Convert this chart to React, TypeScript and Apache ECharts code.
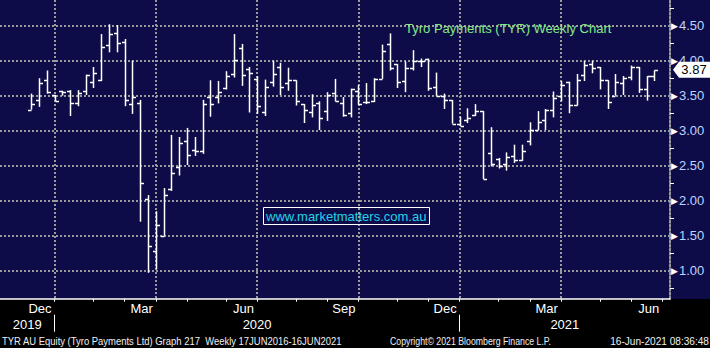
import React, { useEffect, useRef } from 'react';
import * as echarts from 'echarts';

// Weekly categories (Friday dates); first 4 weeks are empty padding before the listing
const startDate = Date.UTC(2019, 10, 8);
const weekCount = 87;
const firstBarIndex = 4;
const weeks: string[] = Array.from({ length: weekCount }, (_, k) =>
  new Date(startDate + k * 7 * 86400000).toISOString().slice(0, 10)
);

const opens = [3.30, 3.44, 3.73, 3.51, 3.56, 3.57, 3.40, 3.56, 3.69, 3.73, 4.23, 4.40, 4.27, 3.38, 3.39, 2.02, 1.28, 1.50, 2.16, 2.48, 2.85, 2.73, 2.71, 3.48, 3.48, 3.61, 3.81, 4.18, 3.88, 3.74, 3.26, 3.70, 3.91, 3.68, 3.72, 3.38, 3.27, 3.39, 3.28, 3.54, 3.40, 3.25, 3.57, 3.41, 3.42, 3.74, 4.24, 3.95, 3.71, 3.90, 4.00, 4.03, 3.63, 3.50, 3.44, 3.10, 3.15, 3.23, 3.28, 2.68, 2.60, 2.53, 2.64, 2.58, 2.85, 3.01, 3.15, 3.30, 3.50, 3.70, 3.37, 3.79, 3.95, 3.91, 3.72, 3.50, 3.68, 3.77, 3.91, 3.59, 3.78];
const highs = [3.53, 3.75, 3.86, 3.51, 3.57, 3.58, 3.58, 3.80, 3.91, 4.38, 4.52, 4.51, 4.31, 4.00, 3.44, 2.08, 1.85, 2.18, 2.94, 2.91, 3.04, 2.91, 3.44, 3.72, 3.71, 3.85, 4.38, 4.24, 3.91, 3.78, 3.73, 4.00, 3.97, 3.90, 3.72, 3.38, 3.52, 3.42, 3.55, 3.74, 3.48, 3.60, 3.65, 3.68, 3.75, 4.23, 4.39, 3.95, 3.99, 4.15, 4.03, 4.03, 3.83, 3.53, 3.44, 3.20, 3.32, 3.38, 3.28, 3.05, 2.61, 2.69, 2.80, 2.80, 3.12, 3.28, 3.31, 3.56, 3.71, 3.70, 3.81, 4.00, 4.00, 3.91, 3.72, 3.81, 3.78, 3.93, 3.91, 3.78, 3.86];
const lows = [3.30, 3.34, 3.53, 3.42, 3.50, 3.21, 3.35, 3.51, 3.61, 3.71, 4.12, 4.12, 3.35, 3.24, 1.70, 0.97, 1.02, 1.50, 2.14, 2.36, 2.51, 2.64, 2.67, 3.20, 3.39, 3.59, 3.76, 3.64, 3.26, 3.24, 3.21, 3.63, 3.51, 3.57, 3.36, 3.11, 3.19, 3.01, 3.14, 3.42, 3.20, 3.19, 3.37, 3.38, 3.41, 3.74, 3.86, 3.61, 3.55, 3.86, 3.91, 3.57, 3.50, 3.31, 3.10, 3.07, 3.11, 3.21, 2.31, 2.49, 2.46, 2.43, 2.54, 2.57, 2.79, 3.01, 3.01, 3.19, 3.42, 3.25, 3.36, 3.71, 3.82, 3.59, 3.31, 3.50, 3.51, 3.72, 3.54, 3.43, 3.71];
const closes = [3.38, 3.68, 3.55, 3.43, 3.55, 3.39, 3.54, 3.79, 3.83, 4.19, 4.38, 4.25, 3.44, 3.48, 2.25, 1.35, 1.65, 2.08, 2.39, 2.83, 2.65, 2.71, 3.38, 3.38, 3.55, 3.78, 4.01, 3.79, 3.83, 3.35, 3.62, 3.81, 3.63, 3.73, 3.42, 3.30, 3.36, 3.18, 3.51, 3.42, 3.23, 3.59, 3.38, 3.41, 3.74, 4.14, 3.89, 3.70, 3.89, 4.00, 3.99, 3.61, 3.50, 3.44, 3.10, 3.07, 3.18, 3.28, 2.31, 2.53, 2.50, 2.63, 2.58, 2.71, 3.01, 3.12, 3.29, 3.47, 3.65, 3.36, 3.73, 3.94, 3.90, 3.73, 3.41, 3.69, 3.75, 3.91, 3.59, 3.78, 3.87];

const monthNames = ['Jan', 'Feb', 'Mar', 'Apr', 'May', 'Jun', 'Jul', 'Aug', 'Sep', 'Oct', 'Nov', 'Dec'];
const quarterMonths = [2, 5, 8, 11];
const yMajor = [1.0, 1.5, 2.0, 2.5, 3.0, 3.5, 4.0, 4.5];
const yMinor = [0.75, 1.25, 1.75, 2.25, 2.75, 3.25, 3.75, 4.25, 4.75];
const yMin = 0.6;
const yMax = 4.867;
const lastPrice = 3.87;

const titleText = 'Tyro Payments (TYR) Weekly Chart';
const watermarkText = 'www.marketmatters.com.au';
const footerLeft = 'TYR AU Equity (Tyro Payments Ltd) Graph 217  Weekly 17JUN2016-16JUN2021';
const footerMid = 'Copyright\u00A9 2021 Bloomberg Finance L.P.';
const footerRight = '16-Jun-2021 08:36:48';

const monthOf = (k: number) => new Date(startDate + k * 7 * 86400000).getUTCMonth();
const yearOf = (k: number) => new Date(startDate + k * 7 * 86400000).getUTCFullYear();
const isMonthEnd = (k: number) => monthOf(k + 1) !== monthOf(k);
const isQuarterEnd = (k: number) => isMonthEnd(k) && quarterMonths.includes(monthOf(k));
const isYearEnd = (k: number) => isMonthEnd(k) && monthOf(k) === 11;

// year label placement: centre of each year's visible span
const yearBounds: number[] = [0];
for (let k = firstBarIndex; k < weekCount; k++) if (isYearEnd(k)) yearBounds.push(k);
yearBounds.push(weekCount - 1);
const yearLabelAt: Record<number, { text: string; half: boolean }> = {};
for (let j = 0; j < yearBounds.length - 1; j++) {
  const c = (yearBounds[j] + yearBounds[j + 1]) / 2;
  const k = Math.floor(c);
  yearLabelAt[k] = { text: String(yearOf(yearBounds[j] + 1)), half: c !== k };
}

const FONT = "'Liberation Sans', Arial, sans-serif";
const GRID_COLOR = '#9a9a9a';

function measure(text: string, size: number): number {
  const ctx = document.createElement('canvas').getContext('2d');
  if (!ctx) return text.length * size * 0.5;
  ctx.font = `${size}px 'Liberation Sans'`;
  return ctx.measureText(text).width;
}

export default function App() {
  const ref = useRef<HTMLDivElement>(null);
  useEffect(() => {
    if (!ref.current) return;
    const chart = echarts.init(ref.current, undefined, { renderer: 'svg' });
    const data = opens.map((o, i) => [i + firstBarIndex, o, highs[i], lows[i], closes[i]]);
    const lastK = weekCount - 1;
    const footerSize = 11;
    const footers = [
      { text: footerLeft, x: 2, w: 340, align: 'left' },
      { text: footerMid, x: 390, w: 161, align: 'left' },
      { text: footerRight, x: 709, w: 99, align: 'right' },
    ];
    const option: any = {
      animation: false,
      backgroundColor: '#000000',
      graphic: [
        {
          type: 'rect',
          z: -100,
          silent: true,
          shape: { x: 0, y: 0, width: 710, height: 299 },
          style: { fill: '#0e0c48' },
        },
        ...footers.map((f) => ({
          type: 'text',
          silent: true,
          x: f.x,
          y: 341,
          scaleX: f.w / measure(f.text, footerSize),
          style: {
            text: f.text,
            fill: '#f0f0f0',
            fontSize: footerSize,
            fontFamily: 'Liberation Sans',
            align: f.align,
            verticalAlign: 'middle',
          },
        })),
      ],
      title: [
        {
          text: titleText,
          left: 405,
          top: 22,
          padding: 0,
          textStyle: { color: '#84ea84', fontSize: 13, fontWeight: 'normal', fontFamily: FONT },
        },
        {
          text: watermarkText,
          left: 263,
          top: 207,
          padding: [3, 3, 2, 3],
          borderColor: '#ffffff',
          borderWidth: 1,
          textStyle: { color: '#22d4ea', fontSize: 13, fontWeight: 'normal', fontFamily: FONT },
        },
      ],
      grid: { left: 0, right: 40, top: 0, bottom: 49.3, containLabel: false },
      xAxis: [
        {
          type: 'category',
          data: weeks,
          boundaryGap: false,
          axisLine: { show: true, lineStyle: { color: '#ffffff', width: 1.5 } },
          axisTick: {
            show: true,
            interval: (k: number) => k >= firstBarIndex && isMonthEnd(k),
            length: 3,
            lineStyle: { color: '#ffffff' },
          },
          axisLabel: {
            interval: (k: number) => k >= firstBarIndex && isQuarterEnd(k),
            formatter: (_v: string, k: number) => monthNames[monthOf(k)],
            color: '#ffffff',
            fontSize: 13,
            fontFamily: FONT,
            align: 'right',
            padding: [0, 3, 0, 0],
            margin: 3,
          },
          splitLine: {
            show: true,
            interval: (k: number) => k >= firstBarIndex && k < lastK - 1 && isQuarterEnd(k),
            lineStyle: { color: GRID_COLOR, type: [2, 2], width: 2 },
          },
        },
        {
          type: 'category',
          data: weeks,
          boundaryGap: false,
          position: 'bottom',
          offset: 16,
          axisLine: { show: false },
          axisTick: {
            show: true,
            interval: (k: number) => k >= firstBarIndex && isYearEnd(k),
            length: 17,
            lineStyle: { color: '#ffffff' },
          },
          axisLabel: {
            interval: (k: number) => !!yearLabelAt[k],
            formatter: (_v: string, k: number) => {
              const y = yearLabelAt[k];
              if (!y) return '';
              return y.half ? `{h|${y.text}}` : `{n|${y.text}}`;
            },
            color: '#ffffff',
            fontSize: 13,
            fontFamily: FONT,
            margin: 3,
            rich: {
              h: { color: '#ffffff', fontSize: 13, fontFamily: FONT, padding: [0, 0, 0, 7.8] },
              n: { color: '#ffffff', fontSize: 13, fontFamily: FONT },
            },
          },
          splitLine: { show: false },
        },
      ],
      yAxis: [
        {
          type: 'value',
          position: 'right',
          min: yMin,
          max: yMax,
          axisLine: { show: true, lineStyle: { color: GRID_COLOR, type: [2, 2], width: 2 } },
          axisTick: { show: false, customValues: yMajor },
          axisLabel: {
            customValues: yMajor,
            margin: 1,
            formatter: (v: number) => `{t|\u25B6}{v|${v.toFixed(2)}}`,
            rich: {
              t: { color: '#ffffff', fontSize: 9, padding: [0, 1, 0, 0], fontFamily: 'DejaVu Sans' },
              v: { color: '#bcd4ff', fontSize: 13, fontFamily: FONT },
            },
          },
          splitLine: { show: true, lineStyle: { color: GRID_COLOR, type: [2, 2], width: 2 } },
        },
        {
          type: 'value',
          position: 'right',
          min: yMin,
          max: yMax,
          axisLine: { show: false },
          axisTick: { show: true, customValues: yMinor, length: 4, lineStyle: { color: '#ffffff' } },
          axisLabel: { show: false },
          splitLine: { show: false },
        },
      ],
      series: [
        {
          type: 'custom',
          name: 'TYR',
          xAxisIndex: 0,
          yAxisIndex: 0,
          data,
          encode: { x: 0, y: [1, 2, 3, 4] },
          clip: false,
          renderItem: (_params: any, api: any) => {
            const x = api.value(0);
            const pH = api.coord([x, api.value(2)]);
            const pL = api.coord([x, api.value(3)]);
            const pO = api.coord([x, api.value(1)]);
            const pC = api.coord([x, api.value(4)]);
            const px = Math.round(pH[0]) + 0.5;
            const oy = Math.round(pO[1]) + 0.5;
            const cy = Math.round(pC[1]) + 0.5;
            const style = { stroke: '#ffffff', lineWidth: 1.5 };
            return {
              type: 'group',
              children: [
                { type: 'line', shape: { x1: px, y1: pH[1], x2: px, y2: pL[1] }, style },
                { type: 'line', shape: { x1: px - 3.5, y1: oy, x2: px, y2: oy }, style },
                { type: 'line', shape: { x1: px, y1: cy, x2: px + 3.5, y2: cy }, style },
              ],
            };
          },
          markPoint: {
            silent: true,
            data: [{ coord: [weeks[lastK], lastPrice], value: lastPrice }],
            symbol: 'path://M0,8 L6,0 L40,0 L40,16 L6,16 Z',
            symbolSize: [40, 16],
            symbolOffset: [23, 0],
            itemStyle: { color: '#ffffff' },
            label: {
              show: true,
              position: 'inside',
              offset: [1, 0],
              formatter: lastPrice.toFixed(2),
              color: '#000000',
              fontSize: 13,
              fontFamily: FONT,
            },
            z: 10,
          },
        },
      ],
    };
    chart.setOption(option);
    return () => chart.dispose();
  }, []);
  return (
    <div
      ref={ref}
      style={{ position: 'fixed', left: 0, top: 0, width: 710, height: 348 }}
    />
  );
}
